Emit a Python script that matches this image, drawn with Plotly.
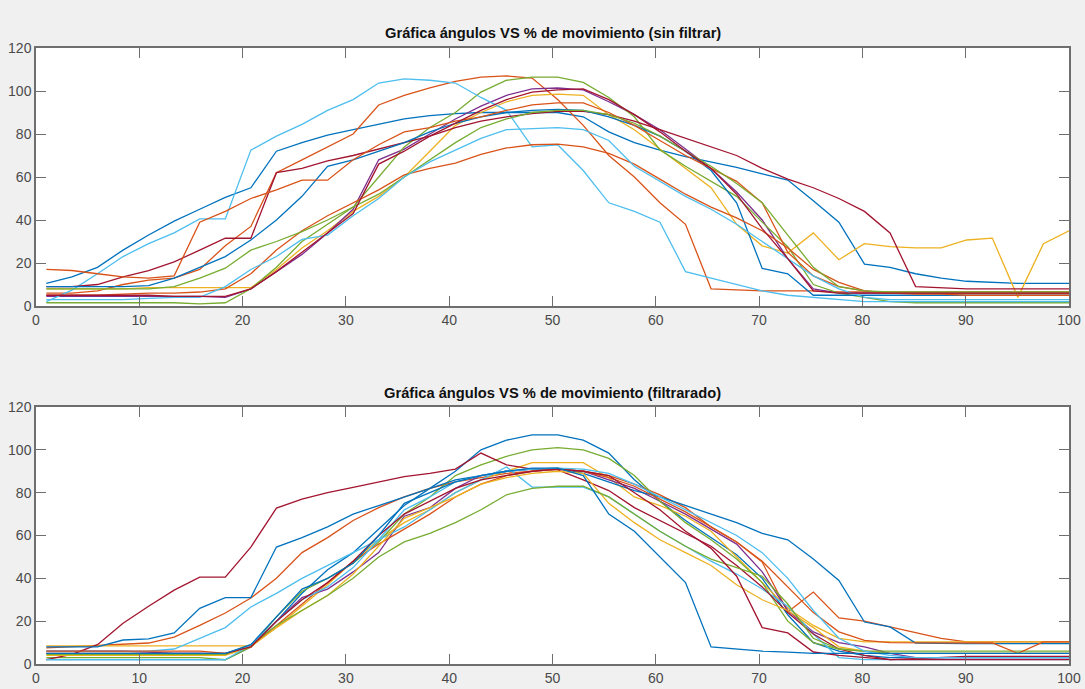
import plotly.graph_objects as go

# percent of movement (x grid shared by all series)
X = [1, 3.475, 5.95, 8.425, 10.9, 13.375, 15.85, 18.325, 20.8, 23.275, 25.75,
     28.225, 30.7, 33.175, 35.65, 38.125, 40.6, 43.075, 45.55, 48.025, 50.5,
     52.975, 55.45, 57.925, 60.4, 62.875, 65.35, 67.825, 70.3, 72.775, 75.25,
     77.725, 80.2, 82.675, 85.15, 87.625, 90.1, 92.575, 95.05, 97.525, 100]

X_TICKS = [0, 10, 20, 30, 40, 50, 60, 70, 80, 90, 100]
Y_TICKS = [0, 20, 40, 60, 80, 100, 120]

TITLE_TOP = "Gráfica ángulos VS % de movimiento (sin filtrar)"
TITLE_BOTTOM = "Gráfica ángulos VS % de movimiento (filtrarado)"

# ---------- top panel (sin filtrar) ----------
top_blue1 = [10.5, 13.5, 18, 26, 33, 39.5, 45, 50.5, 55, 72, 76, 79.5, 82, 84.5, 87, 88.5, 89.5, 90, 90, 90,
             90, 88, 81, 76, 72.5, 69.5, 67, 64.5, 61.5, 58.6, 49, 39, 19.5, 18, 15, 13, 11.5, 11, 10.5, 10.5, 10.5]
top_blue2 = [9, 9, 9, 9, 9.5, 13, 18, 23, 30.7, 40, 51, 65, 68, 72, 76, 81, 85, 88, 90, 91,
             91.5, 91, 88, 84, 79, 72, 63, 48, 17.5, 15, 5, 5, 5, 5, 5, 5, 5, 5, 5, 5, 5]
top_orange_hi = [6, 6, 7, 10, 12, 13, 17, 28, 37, 62, 68, 74, 80, 93.5, 98, 101.5, 104.5, 106.5, 107, 106,
                 96, 84, 70, 60, 48, 38, 8, 7.5, 7, 7, 7, 6.5, 6.5, 6.5, 6.5, 6.5, 6.5, 6.5, 6.5, 6.5, 6.5]
top_orange_mid = [17, 16.5, 15, 13.5, 13, 14, 39, 44, 50, 54, 58.5, 58.5, 68, 75, 81, 83, 86, 88, 91, 93.5,
                  94.5, 94.5, 90, 84, 77, 70, 64, 58, 48, 25, 14, 9, 7, 6, 6, 6, 6, 6, 6, 6, 6]
top_orange_low = [5, 5, 5, 5.5, 6, 6, 6.5, 8, 15, 26, 35, 42, 48, 54, 61, 64, 66.5, 70.5, 73.5, 75,
                  75.3, 74, 71, 66, 59, 52, 46, 41, 35, 27, 17, 11, 7, 6, 5.5, 5.5, 5, 5, 5, 5, 5]
top_yellow = [8, 8, 8, 8, 8.5, 8.5, 8.5, 8.5, 8.5, 17, 27, 35, 44, 51, 60, 72, 84, 90, 95, 98,
              98.5, 98, 89, 82, 73, 64, 55, 38, 28, 24.6, 34, 21.5, 29, 27.6, 27, 27, 30.7, 31.6, 4, 29, 35]
top_purple = [4.5, 4.5, 4.5, 4.5, 4.5, 4.5, 4.5, 4, 8, 16, 24, 34, 45, 68, 73, 80, 87, 93, 98, 101,
              101.4, 100.5, 95, 89, 82, 73, 64, 53, 40, 22, 8, 6, 6, 6, 6, 6, 6, 6, 6, 6, 6]
top_green_hi = [1.5, 1.5, 1.5, 1.5, 1.5, 1.5, 1, 1.5, 8, 18, 30, 38, 46, 60, 74, 83, 90, 99.5, 105, 106.5,
                106.5, 104, 97, 88, 72.6, 65, 58, 51, 39, 27.6, 10, 6, 4, 2, 1.5, 1.5, 1.5, 1.5, 1.5, 1.5, 1.5]
top_green_mid = [8, 8, 8, 8, 8, 9, 13, 17.6, 26, 30, 34.6, 40, 46, 52, 60, 68, 76, 83, 87, 90,
                 91, 91, 89, 85, 79, 72, 65, 57, 48, 33, 18, 9, 7, 6.5, 6.5, 6.5, 6.5, 6.5, 6.5, 6.5, 6.5]
top_cyan_hi = [2, 7.4, 15, 23, 29, 34, 40.5, 40.5, 72.5, 79, 84.5, 91, 96, 103.7, 105.6, 105, 103.7, 97, 91, 74,
               75, 63, 48, 44, 39, 16, 13, 10, 7, 5, 4, 3, 2, 2, 2, 2, 2, 2, 2, 2, 2]
top_cyan_low = [3, 3, 3, 3, 3.5, 4, 4, 9, 17, 23, 31, 33, 42, 50, 60, 67, 72.5, 78, 82, 82.5,
                83, 82, 77, 65, 58, 51, 45, 38, 30, 22, 14, 8, 4, 3, 3, 3, 3, 3, 3, 3, 3]
top_darkred1 = [9, 9, 10, 13.5, 16.5, 20.5, 26, 31.5, 31.5, 62, 64, 67.5, 70, 73, 76, 79, 83, 86, 88, 89.5,
                90.5, 90.5, 89, 86, 82, 78, 74, 70, 64, 59, 55, 50, 44, 34, 9, 8.5, 8, 8, 8, 8, 8]
top_darkred2 = [5, 5, 5, 5, 5, 4.5, 4.5, 4.5, 8, 16, 25, 34, 43, 66, 72, 79, 85, 91, 96, 99.5,
                100.5, 101, 96, 89, 81, 72, 64, 52, 36, 22, 7, 6, 6, 6, 6, 6, 6, 6, 6, 6, 6]

# ---------- bottom panel (filtrado) ----------
bot_blue_hi = [2, 2, 2, 2, 2, 2, 2, 2, 8, 20, 33, 44, 52, 63, 74, 82, 90, 100, 104.5, 107,
               107, 104.5, 98.5, 86, 76, 67, 59, 51, 40, 23, 10, 6, 4, 3, 3, 3, 3, 3, 3, 3, 3]
bot_blue_knee = [8, 8, 8, 11.2, 11.7, 14.5, 26, 31, 31, 54.6, 59, 64, 70, 74, 78, 82, 86, 88, 90, 91,
                 91.5, 89, 85, 81, 78, 74, 70, 66, 61, 58, 49, 39, 19.6, 17.3, 9.8, 9.5, 9.5, 9.5, 9.5, 9.5, 9.5]
bot_blue_drop = [5, 5, 5, 5, 5, 5, 5, 5, 9, 22, 35, 40, 47, 60, 75, 80, 85, 88, 90, 91.5,
                 91.5, 88, 70, 62, 50, 38, 8, 7, 6, 5.5, 5, 5, 5, 5, 5, 5, 5, 5, 5, 5, 5]
bot_orange1 = [7.5, 8, 8.5, 9, 9.8, 12.6, 18, 23.8, 30.8, 40, 52, 59, 67, 73, 78, 82, 85, 87, 89, 90,
               91, 90, 88, 84, 79, 73, 64, 57, 47.6, 24.3, 33.6, 21.5, 20, 17.3, 14.5, 12, 10.3, 10.3, 10.3, 10.3, 10.3]
bot_orange2 = [6, 6, 6, 6, 6, 6, 6, 5, 8, 18, 28, 38, 48, 56, 63, 70, 78, 84, 88, 90,
               91, 90, 87, 83, 77, 71, 64, 57, 48, 36, 24, 15, 11, 10, 10, 10, 10, 9.8, 5, 10.3, 10.3]
bot_yellow1 = [8.5, 8.5, 8.5, 8.5, 8.5, 8.5, 8.5, 8.5, 8.5, 17, 27, 37, 48, 58, 66, 72, 80, 86, 90, 94,
               94, 94, 87, 78, 74, 69, 62, 50, 38, 26, 18, 12, 10.3, 10.3, 10.3, 10.3, 10.3, 10.3, 10.3, 10.3, 10.3]
bot_yellow2 = [4, 4, 4, 4, 4, 4, 4, 4, 8, 17, 25, 32, 42, 55, 68, 73, 78, 84, 87, 89,
               90, 89, 75, 66, 58, 52, 46, 37, 30, 25, 17, 8, 6, 5, 5, 5, 5, 5, 5, 5, 5]
bot_purple = [6, 6, 6, 6, 5.5, 5, 5, 4.5, 8, 20, 31, 35, 43, 52, 69, 73, 82, 88, 90, 91,
              91, 90, 86, 82, 76, 70, 63, 56, 43, 25, 15, 10, 8, 5, 3, 3, 3, 3, 3, 3, 3]
bot_green1 = [3, 3, 3, 3, 3, 3, 3, 2, 8, 22, 34, 40, 47, 57, 70, 78, 88, 93, 97, 100,
              101, 100, 96, 88, 76, 66, 58, 49, 38, 20, 10, 7, 6, 6, 6, 6, 6, 6, 6, 6, 6]
bot_green2 = [4.5, 4.5, 4.5, 4.5, 4.5, 4.5, 4.5, 4.5, 9, 18, 25, 32, 40, 50, 57, 61, 66, 72, 79, 82,
              83, 83, 78, 70, 62, 55, 49, 45, 41, 28, 12, 7, 6, 5, 5, 5, 5, 5, 5, 5, 5]
bot_cyan1 = [6, 6, 6, 6, 6, 7, 12, 17, 26.6, 33, 40, 46, 52, 58, 64, 72, 80, 86, 92, 82.6,
             82.6, 82.6, 78, 70, 62, 55, 48, 42, 35, 27, 14, 3, 2, 2, 2, 2, 2, 2, 2, 2, 2]
bot_cyan2 = [2, 2, 2, 2, 2, 2, 2, 2, 9, 20, 30, 36, 45, 58, 72, 78, 85, 88, 90, 91,
             91.5, 91, 89, 84, 78, 72, 66, 60, 52, 40, 25, 12, 6, 4, 3, 3, 3, 3, 3, 3, 3]
bot_darkred1 = [2, 4.5, 9, 19, 27, 34.5, 40.6, 40.6, 54.6, 72.8, 77, 80, 82.5, 85, 87.5, 89, 91, 98.5, 93, 91,
                90.6, 86, 81, 73, 67, 61, 55, 46, 36, 24, 14, 7, 4, 2, 2.5, 3, 3.5, 3.5, 3.5, 3.5, 3.5]
bot_darkred2 = [5, 5, 5, 5, 5, 5, 5, 5, 8, 20, 30, 38, 48, 60, 70, 76, 82, 86, 88, 90,
                91, 90, 88, 80, 72, 62, 54, 41, 17, 14.5, 5.6, 4, 3, 2, 2, 2, 2, 2, 2, 2, 2]

BLUE, ORANGE, YELLOW, PURPLE = "#0072BD", "#D95319", "#EDB120", "#7E2F8E"
GREEN, CYAN, DARKRED = "#77AC30", "#4DBEEE", "#A2142F"

top_series = [
    (top_blue1, BLUE), (top_orange_hi, ORANGE), (top_yellow, YELLOW), (top_purple, PURPLE),
    (top_green_hi, GREEN), (top_cyan_hi, CYAN), (top_darkred1, DARKRED),
    (top_blue2, BLUE), (top_orange_mid, ORANGE), (top_orange_low, ORANGE),
    (top_green_mid, GREEN), (top_cyan_low, CYAN), (top_darkred2, DARKRED),
]
bottom_series = [
    (bot_blue_hi, BLUE), (bot_orange1, ORANGE), (bot_yellow1, YELLOW), (bot_purple, PURPLE),
    (bot_green1, GREEN), (bot_cyan1, CYAN), (bot_darkred1, DARKRED),
    (bot_blue_knee, BLUE), (bot_orange2, ORANGE), (bot_yellow2, YELLOW),
    (bot_green2, GREEN), (bot_cyan2, CYAN), (bot_darkred2, DARKRED), (bot_blue_drop, BLUE),
]

fig = go.Figure()
for ys, c in top_series:
    fig.add_trace(go.Scatter(x=X, y=ys, mode="lines", line=dict(color=c, width=1.3),
                             xaxis="x", yaxis="y", hoverinfo="skip"))
for ys, c in bottom_series:
    fig.add_trace(go.Scatter(x=X, y=ys, mode="lines", line=dict(color=c, width=1.3),
                             xaxis="x2", yaxis="y2", hoverinfo="skip"))

H_PLOT = 616.0
top_dom = [(664 - 306) / H_PLOT, 1.0]
bot_dom = [0.0, (664 - 407) / H_PLOT]

FONT = "Liberation Sans, Arial, sans-serif"
axis_common = dict(showgrid=False, zeroline=False, showline=True, linecolor="#6e6e6e",
                   linewidth=1.5, mirror="ticks", ticks="inside", ticklen=10, tickwidth=1.3,
                   tickcolor="#6e6e6e", automargin=False,
                   tickfont=dict(family=FONT, size=14, color="#4a4a4a"))

fig.update_layout(
    width=1085, height=689,
    paper_bgcolor="#f0f0f0", plot_bgcolor="white",
    margin=dict(l=36, r=16, t=48, b=25),
    showlegend=False,
    xaxis=dict(domain=[0, 1], range=[0, 100], tickvals=X_TICKS, anchor="y", **axis_common),
    yaxis=dict(domain=top_dom, range=[0, 120], tickvals=Y_TICKS, anchor="x", **axis_common),
    xaxis2=dict(domain=[0, 1], range=[0, 100], tickvals=X_TICKS, anchor="y2", **axis_common),
    yaxis2=dict(domain=bot_dom, range=[0, 120], tickvals=Y_TICKS, anchor="x2", **axis_common),
    annotations=[
        dict(text="<b>" + TITLE_TOP + "</b>", x=0.5, xref="paper", y=(664 - 33) / H_PLOT, yref="paper",
             xanchor="center", yanchor="middle", showarrow=False,
             font=dict(family=FONT, size=14.7, color="#111111")),
        dict(text="<b>" + TITLE_BOTTOM + "</b>", x=0.5, xref="paper", y=(664 - 393) / H_PLOT, yref="paper",
             xanchor="center", yanchor="middle", showarrow=False,
             font=dict(family=FONT, size=14.7, color="#111111")),
    ],
)

PAGE_FIX = ("document.body.style.margin='0';document.body.style.padding='0';"
            "document.body.style.overflow='hidden';document.body.style.background='#f0f0f0';")

fig.write_html("out.html", post_script=PAGE_FIX, config={"displayModeBar": False})
